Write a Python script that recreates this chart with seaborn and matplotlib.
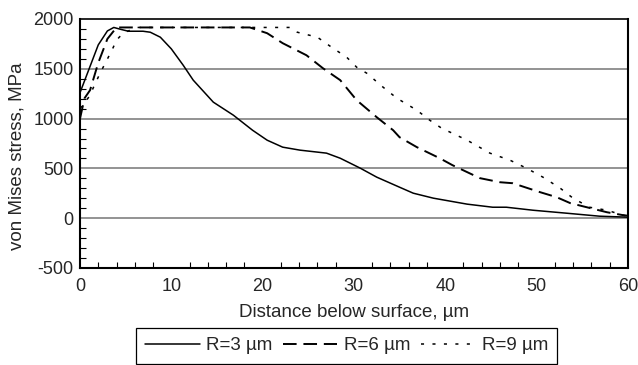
import numpy as np
import matplotlib
matplotlib.use("Agg")
import matplotlib.pyplot as plt
from matplotlib.ticker import MultipleLocator
import seaborn as sns

# --- DATA ---
x_r3 = [0, 1, 2, 3, 3.7, 4.5, 5.3, 6.9, 7.7, 8.8, 10, 11.3, 12.4, 14.6, 16.8,
        18.9, 20.5, 22.2, 24.1, 27, 28.5, 30.7, 32.5, 35, 36.5, 38.7, 42.4,
        45.2, 46.7, 49.6, 53.3, 56.9, 60]
y_r3 = [1260, 1500, 1740, 1880, 1915, 1895, 1877, 1877, 1867, 1817, 1700,
        1536, 1386, 1165, 1034, 883, 783, 713, 683, 653, 602, 502, 412, 311,
        251, 201, 141, 110, 110, 80, 50, 20, 10]

x_r6 = [0, 0.5, 1.1, 2, 3, 4, 10, 18.6, 20.5, 22.2, 24.8, 26.6, 28.5, 30.3,
        32.5, 34.3, 35, 36.9, 39.4, 40.8, 43.8, 46, 47.4, 50.4, 52.2, 53.7,
        55.5, 57.7, 59.5, 60]
y_r6 = [1000, 1205, 1285, 1560, 1800, 1915, 1915, 1915, 1857, 1757, 1636,
        1506, 1386, 1185, 1014, 883, 813, 713, 602, 532, 402, 361, 351, 261,
        211, 151, 110, 60, 30, 25]

x_r9 = [0, 1, 2.2, 3.5, 4, 4.7, 6.2, 15, 23, 23.8, 26, 27.7, 29.2, 30.3,
        31.4, 33.2, 34.7, 36.9, 38.3, 39.6, 42.4, 44.9, 47.1, 48.9, 50.7,
        52.6, 54, 55.8, 57.7, 59.5, 60]
y_r9 = [1100, 1220, 1456, 1687, 1787, 1857, 1915, 1915, 1915, 1867, 1817,
        1707, 1617, 1516, 1456, 1315, 1205, 1084, 984, 904, 783, 653, 582,
        502, 412, 301, 201, 110, 80, 30, 20]

labels = ["R=3 \u00b5m", "R=6 \u00b5m", "R=9 \u00b5m"]


def main():
    sns.set_style("white")
    plt.rcParams["font.family"] = ["Liberation Sans", "DejaVu Sans"]
    plt.rcParams["font.size"] = 13
    plt.rcParams["axes.unicode_minus"] = False

    fig = plt.figure(figsize=(6.38, 3.65), dpi=100)
    ax = fig.add_axes([0.1254, 0.2658, 0.8586, 0.6822])

    # horizontal grid lines
    for gy in [-500, 0, 500, 1000, 1500]:
        ax.axhline(gy, color="#808080", lw=1.2, zorder=0)

    sns.lineplot(x=x_r3, y=y_r3, ax=ax, color="black", lw=1.1,
                 linestyle="-", label=labels[0], sort=False)
    sns.lineplot(x=x_r6, y=y_r6, ax=ax, color="black", lw=1.4,
                 linestyle=(0, (7, 3.5)), label=labels[1], sort=False)
    sns.lineplot(x=x_r9, y=y_r9, ax=ax, color="black", lw=1.1,
                 linestyle=(0, (2, 5.5)), label=labels[2], sort=False)

    ax.set_xlim(0, 60)
    ax.set_ylim(-500, 2000)
    ax.xaxis.set_major_locator(MultipleLocator(10))
    ax.xaxis.set_minor_locator(MultipleLocator(2))
    ax.yaxis.set_major_locator(MultipleLocator(500))
    ax.yaxis.set_minor_locator(MultipleLocator(100))
    ax.tick_params(which="major", direction="inout", length=7, width=1,
                   color="black", labelsize=13, pad=1)
    ax.tick_params(which="minor", direction="in", length=4, width=0.8,
                   color="black", bottom=True, left=True)
    ax.tick_params(axis="x", pad=4)

    for side in ["left", "bottom", "right"]:
        ax.spines[side].set_color("black")
        ax.spines[side].set_linewidth(1.5)
    ax.spines["top"].set_color("black")
    ax.spines["top"].set_linewidth(1.2)

    ax.set_xlabel("Distance below surface, \u00b5m", fontsize=13.5, labelpad=6)
    ax.set_ylabel("von Mises stress, MPa", fontsize=13.5)
    ax.yaxis.set_label_coords(-0.10, 0.45)

    ax.legend(loc="upper center", bbox_to_anchor=(0.487, -0.203), ncol=3,
              frameon=True, fancybox=False, edgecolor="black",
              fontsize=13.5, handlelength=2.9, handletextpad=0.35,
              columnspacing=0.55, borderpad=0.5, framealpha=1)
    ax.get_legend().get_frame().set_linewidth(0.9)

    fig.savefig("out.png", dpi=100)


if __name__ == "__main__":
    main()
